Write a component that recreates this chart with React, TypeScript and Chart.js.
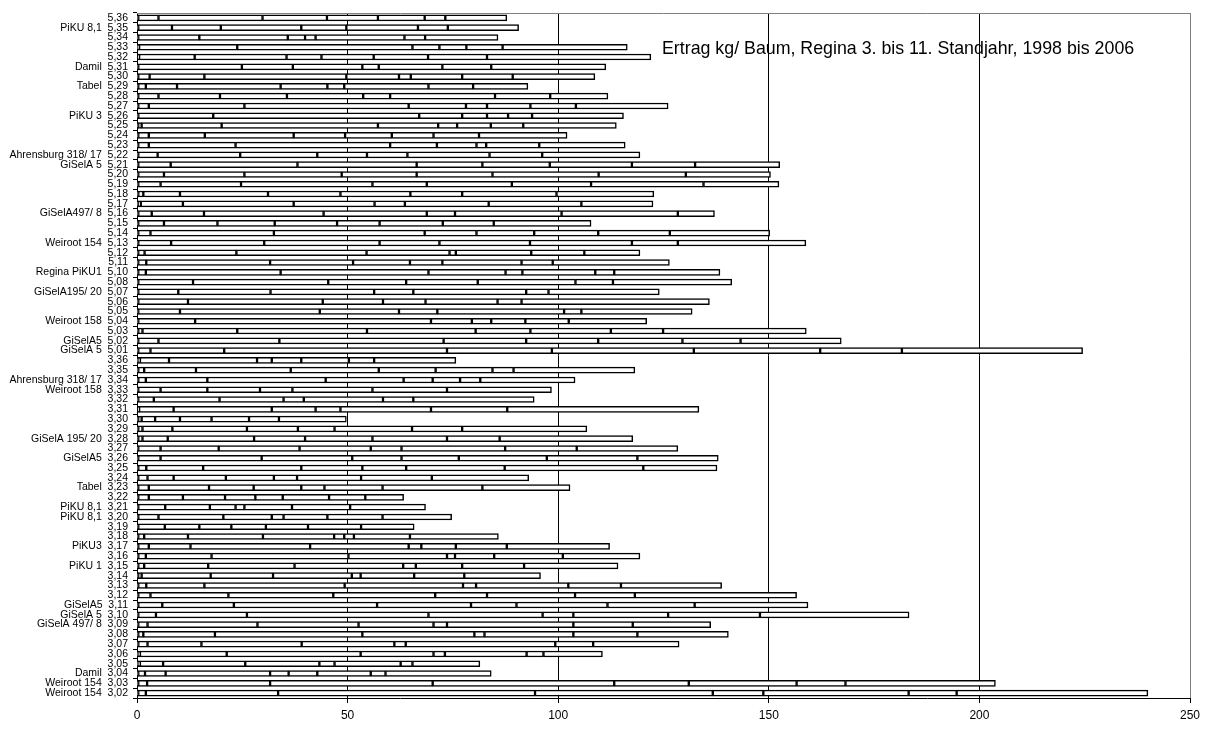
import React, { useEffect, useRef } from "react";
import { Chart, registerables } from "chart.js";

Chart.register(...registerables);

const treeNumbers = [
  "5,36","5,35","5,34","5,33","5,32","5,31","5,30","5,29","5,28","5,27",
  "5,26","5,25","5,24","5,23","5,22","5,21","5,20","5,19","5,18","5,17",
  "5,16","5,15","5,14","5,13","5,12","5,11","5,10","5,08","5,07","5,06",
  "5,05","5,04","5,03","5,02","5,01","3,36","3,35","3,34","3,33","3,32",
  "3,31","3,30","3,29","3,28","3,27","3,26","3,25","3,24","3,23","3,22",
  "3,21","3,20","3,19","3,18","3,17","3,16","3,15","3,14","3,13","3,12",
  "3,11","3,10","3,09","3,08","3,07","3,06","3,05","3,04","3,03","3,02",
];

const rootstocks = [
  "","PiKU 8,1","","","","Damil","","Tabel","","",
  "PiKU 3","","","","Ahrensburg 318/ 17","GiSelA 5","","","","",
  "GiSelA497/ 8","","","Weiroot 154","","","Regina PiKU1","","GiSelA195/ 20","",
  "","Weiroot 158","","GiSelA5","GiSelA 5","","","Ahrensburg 318/ 17","Weiroot 158","",
  "","","","GiSelA 195/ 20","","GiSelA5","","","Tabel","",
  "PiKU 8,1","PiKU 8,1","","","PiKU3","","PiKU 1","","","",
  "GiSelA5","GiSelA 5","GiSelA 497/ 8","","","","","Damil","Weiroot 154","Weiroot 154",
];

const years = ["1998","1999","2000","2001","2002","2003","2004","2005","2006"];

const y1998 = [0,0,0,0,0,0,0.3,0.3,0.3,0.3, 0,0.3,0.3,0.3,0.3,0.3,0.3,0.3,0.3,0.3, 0.3,0.3,0.3,0.3,0.3,0.3,0.3,0,0,0, 0,0,0.3,0.3,0.3,0.3,0.3,0.3,0,0, 0,0,0.3,0.3,0.3,0.3,0.3,0.3,0.3,0.3, 0,0,0,0.3,0.3,0.3,0.3,0.3,0.3,0.3, 0.3,0.3,0.3,0.3,0.3,0.3,0.3,0.3,0.3,0.3];
const y1999 = [0.3,0.3,0.3,0.3,0.5,0.3,2.7,1.8,4.8,2.5, 0.3,0.8,2.5,2.5,4.6,7.7,6.1,5.3,1.2,0.6, 3.2,6.1,2.9,7.8,1.5,1.9,1.8,0.3,0.3,0.3, 0.3,0.3,1.0,4.8,2.9,0.4,1.4,1.8,0.3,0.3, 0.5,0.3,1.0,1.0,5.3,5.3,1.9,2.2,2.5,2.5, 0.3,0.3,0.3,1.4,2.5,1.8,1.4,0.8,1.9,2.9, 5.7,4.2,2.2,1.2,2.2,0.4,0.4,1.6,2.1,1.8];
const y2000 = [4.8,8.0,14.5,0.2,13.2,24.6,13.0,7.4,14.6,22.7, 17.8,19.0,13.3,20.6,19.6,30.1,19.1,19.1,8.7,10.0, 12.4,12.7,29.3,22.1,21.8,29.4,32.0,13.0,9.5,11.8, 9.9,13.5,22.5,28.7,17.5,6.9,12.3,14.6,5.3,3.7, 8.2,0.8,7.1,6.0,13.8,24.0,13.5,6.2,14.3,8.1, 6.4,4.8,6.3,10.4,9.9,15.6,15.2,16.4,13.8,18.5, 17.0,21.6,26.1,17.0,12.8,20.6,5.5,4.9,29.2,31.4];
const y2001 = [24.7,11.6,21.0,23.3,21.8,12.1,33.7,24.6,15.9,39.0, 48.9,37.1,21.1,36.7,18.3,28.3,23.1,31.2,20.9,26.3, 28.4,13.6,35.8,27.4,30.9,19.7,35.1,32.1,21.9,32.0, 33.2,56.0,30.8,39.0,52.9,20.9,22.5,28.1,11.1,15.6, 23.3,3.2,17.7,20.5,19.2,21.5,23.3,12.4,10.6,10.0, 10.6,15.4,8.2,17.8,28.4,32.5,20.5,14.8,33.3,24.9, 34.0,43.1,24.0,35.0,23.8,31.8,19.5,24.8,38.6,61.0];
const y2002 = [15.3,19.1,4.1,41.6,8.3,16.5,12.5,11.1,18.1,13.6, 10.2,14.3,12.2,11.1,11.8,15.6,17.8,12.9,17.2,19.2, 24.5,14.8,12.3,14.2,19.7,13.5,18.3,18.5,24.6,14.3, 18.8,9.7,25.8,19.6,24.9,3.5,20.9,18.5,12.5,15.2, 10.4,5.9,12.1,12.1,16.9,11.7,14.5,11.4,11.3,7.2, 6.1,11.5,7.6,16.9,23.4,23.4,25.8,18.7,28.1,24.2, 22.3,27.1,17.8,26.6,22.0,17.3,17.6,4.4,43.1,42.2];
const y2003 = [12.1,10.7,2.5,6.4,12.4,3.9,2.8,4.0,6.4,5.0, 5.9,4.5,11.1,9.4,9.6,16.0,18.0,20.2,16.6,7.2, 6.7,10.1,13.7,21.5,1.5,7.7,4.0,17.0,9.3,10.1, 9.1,4.6,13.0,17.1,33.7,7.0,13.5,6.9,7.7,4.8, 5.9,7.5,8.7,16.0,7.3,13.6,10.4,5.5,5.5,6.5, 2.1,2.8,8.2,2.4,3.0,1.9,3.0,2.1,3.1,12.3, 10.8,7.3,3.2,2.4,2.7,2.7,3.6,6.8,17.7,12.0];
const y2004 = [11.1,17.0,21.1,6.4,12.9,15.1,12.2,20.0,24.9,10.3, 5.0,8.0,9.9,2.3,19.5,19.5,25.2,18.8,12.3,19.9, 25.3,15.0,15.2,24.2,17.9,18.8,17.3,23.2,26.8,17.1, 30.1,8.1,19.1,20.0,30.0,11.3,13.5,6.5,19.0,18.8, 21.5,8.9,18.4,17.7,24.6,20.9,23.4,15.2,13.8,11.0, 11.3,10.4,10.0,2.3,8.2,9.3,11.0,12.7,21.9,20.9, 21.6,22.5,30.0,21.1,35.5,19.4,15.7,12.7,25.6,34.5];
const y2005 = [4.9,7.1,4.9,8.6,14.0,11.6,12.0,10.6,13.1,10.8, 5.7,7.7,10.8,12.6,12.5,15.0,20.7,26.7,22.4,22.0, 27.6,12.1,17.0,10.9,12.6,7.4,4.5,8.9,5.3,5.7, 4.1,10.3,12.4,13.8,19.4,6.0,5.0,4.8,17.7,7.2, 18.1,7.1,11.9,12.5,17.0,21.5,32.9,16.8,23.7,8.6, 13.8,13.1,12.6,13.3,12.1,16.3,14.7,11.9,12.5,14.2, 20.7,21.8,14.1,15.2,9.0,4.0,2.8,3.5,11.6,11.4];
const y2006 = [14.6,16.8,17.3,29.6,38.9,27.2,19.5,13.0,13.7,21.9, 21.7,22.1,20.9,20.4,23.2,20.1,20.1,17.9,23.1,17.0, 8.7,23.1,23.7,30.4,13.2,27.7,25.1,28.2,26.3,44.6, 26.3,18.5,34.0,23.9,42.9,19.4,28.8,22.5,24.8,28.7, 45.5,16.0,29.6,31.6,24.0,19.2,17.5,23.0,20.8,9.1, 17.9,16.4,12.6,21.0,24.4,18.3,22.3,18.1,23.9,38.4, 26.9,35.4,18.5,21.6,20.4,14.0,16.0,25.1,35.6,45.4];

const xTicks = [0, 50, 100, 150, 200, 250];
const titleText = "Ertrag kg/ Baum, Regina 3. bis 11. Standjahr, 1998 bis 2006";

const FONT = "'Liberation Sans', Arial, Helvetica, sans-serif";

export default function App() {
  const ref = useRef<HTMLCanvasElement | null>(null);

  useEffect(() => {
    if (!ref.current) return;
    const labels = treeNumbers.map((n, i) =>
      rootstocks[i] ? rootstocks[i] + "  " + n : n
    );
    const series = [y1998, y1999, y2000, y2001, y2002, y2003, y2004, y2005, y2006];

    const framePlugin = {
      id: "frameAndTitle",
      afterDraw(chart: any) {
        const { ctx, chartArea } = chart;
        ctx.save();
        ctx.strokeStyle = "#808080";
        ctx.lineWidth = 1;
        ctx.beginPath();
        ctx.moveTo(chartArea.left, chartArea.top + 0.5);
        ctx.lineTo(chartArea.right + 0.5, chartArea.top + 0.5);
        ctx.lineTo(chartArea.right + 0.5, chartArea.bottom);
        ctx.stroke();
        ctx.fillStyle = "#000";
        ctx.font = "17.8px " + FONT;
        ctx.textBaseline = "alphabetic";
        ctx.textAlign = "left";
        ctx.fillText(titleText, 662, 54);
        ctx.restore();
      },
    };

    const chart = new Chart(ref.current, {
      type: "bar",
      data: {
        labels,
        datasets: series.map((d, i) => ({
          label: years[i],
          data: d,
          backgroundColor: "#ffffff",
          borderColor: "#000000",
          borderWidth: 1.5,
          borderSkipped: false,
          barThickness: 6,
        })),
      },
      options: {
        indexAxis: "y",
        responsive: false,
        animation: false,
        devicePixelRatio: 1,
        layout: { padding: { top: 13, right: 16, left: 0, bottom: 0 } },
        plugins: {
          legend: { display: false },
          tooltip: { enabled: false },
          title: { display: false },
        },
        scales: {
          x: {
            stacked: true,
            min: 0,
            max: 250,
            afterBuildTicks: (scale: any) => {
              scale.ticks = xTicks.map((v) => ({ value: v }));
            },
            afterFit: (scale: any) => {
              scale.height = 31;
            },
            grid: {
              color: (c: any) => (c.tick && c.tick.value === 250 ? "#808080" : "#000000"),
              lineWidth: 1,
              drawTicks: true,
              tickLength: 5,
              tickColor: "#000000",
            },
            border: { display: true, color: "#000000", width: 1 },
            ticks: {
              color: "#000000",
              font: { family: FONT, size: 12 },
              padding: 5,
              maxRotation: 0,
            },
          },
          y: {
            stacked: true,
            afterFit: (scale: any) => {
              scale.width = 137;
            },
            grid: {
              offset: true,
              drawOnChartArea: false,
              drawTicks: true,
              tickLength: 4,
              color: "#000000",
            },
            border: { display: true, color: "#000000", width: 1 },
            ticks: {
              autoSkip: false,
              color: "#000000",
              font: { family: FONT, size: 10.5 },
              padding: 5,
            },
          },
        },
      },
      plugins: [framePlugin],
    } as any);

    return () => chart.destroy();
  }, []);

  return (
    <div style={{ position: "absolute", left: 0, top: 0, width: 1206, height: 729, background: "#fff" }}>
      <canvas ref={ref} width={1206} height={729} style={{ width: 1206, height: 729 }} />
    </div>
  );
}
